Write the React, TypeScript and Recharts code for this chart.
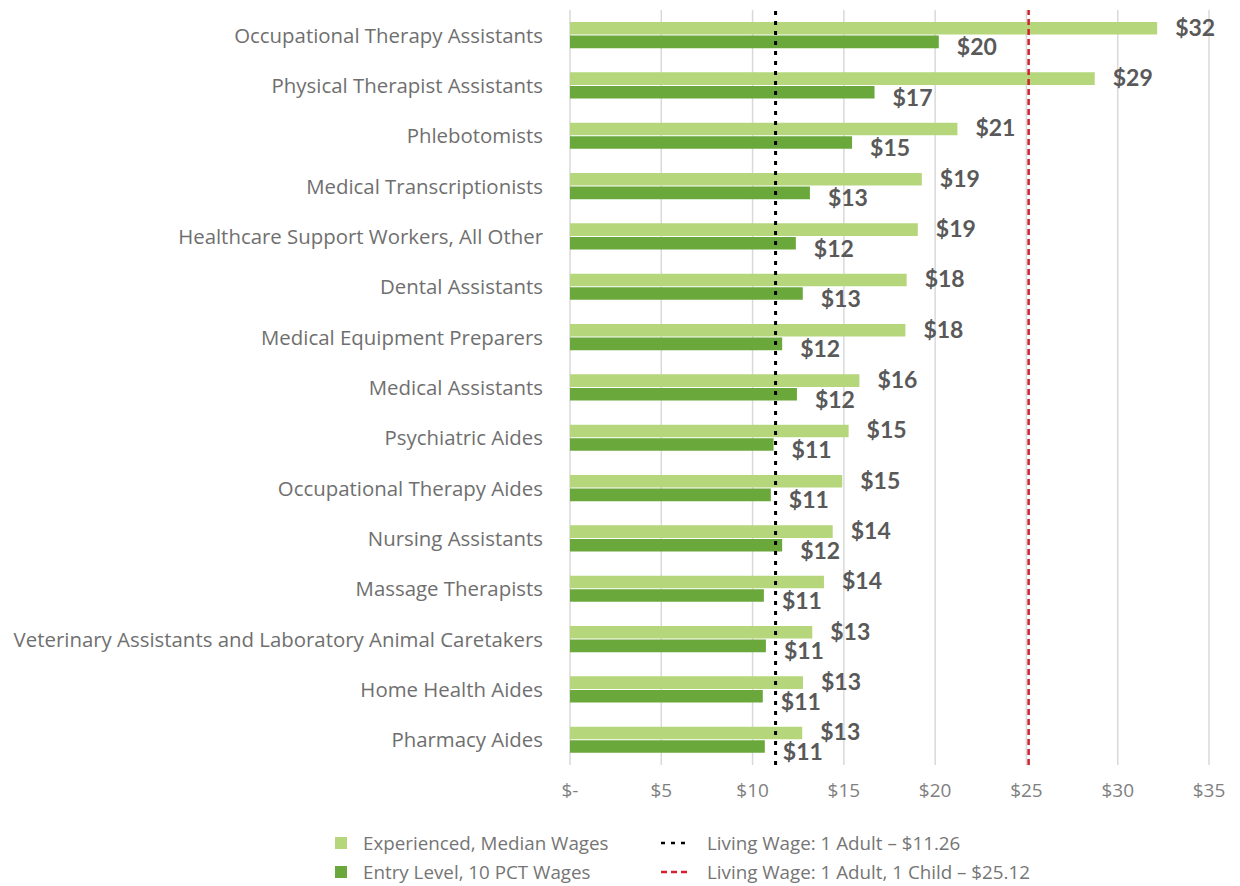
import { BarChart, Bar, XAxis, YAxis, CartesianGrid, ReferenceLine, LabelList } from "recharts";

const occupations = [
  "Occupational Therapy Assistants",
  "Physical Therapist Assistants",
  "Phlebotomists",
  "Medical Transcriptionists",
  "Healthcare Support Workers, All Other",
  "Dental Assistants",
  "Medical Equipment Preparers",
  "Medical Assistants",
  "Psychiatric Aides",
  "Occupational Therapy Aides",
  "Nursing Assistants",
  "Massage Therapists",
  "Veterinary Assistants and Laboratory Animal Caretakers",
  "Home Health Aides",
  "Pharmacy Aides",
];

// Experienced, median hourly wage
const experienced = [32.16, 28.74, 21.22, 19.27, 19.05, 18.44, 18.37, 15.85, 15.26, 14.91, 14.39, 13.91, 13.27, 12.76, 12.72];
// Entry level, 10th percentile hourly wage
const entryLevel = [20.2, 16.68, 15.45, 13.14, 12.37, 12.75, 11.62, 12.43, 11.15, 11.0, 11.62, 10.62, 10.73, 10.56, 10.67];

const xTicks = [0, 5, 10, 15, 20, 25, 30, 35];
const livingWageAdult = 11.26;
const livingWageAdultChild = 25.12;

const LIGHT = "#B5D67B";
const DARK = "#6AA83B";
const FONT = "'Open Sans', sans-serif";
const BOLD_FONT = "Lato, sans-serif";

const data = occupations.map((name, i) => ({
  name,
  experienced: experienced[i],
  entry: entryLevel[i],
}));

function valueLabel(dy: number) {
  return (props: any) => {
    const { x, y, width, height, value } = props;
    return (
      <text
        x={x + width + 18}
        y={y + height / 2 + dy}
        dy="0.36em"
        textAnchor="start"
        fill="#595959"
        fontSize={23}
        fontWeight={700}
        fontFamily={BOLD_FONT}
      >
        ${Math.round(value)}
      </text>
    );
  };
}

function CategoryTick(props: any) {
  const { x, y, payload } = props;
  return (
    <text x={x} y={y} dy="0.36em" textAnchor="end" fill="#6F6F6F" fontSize={20.4} fontFamily={FONT}>
      {payload.value}
    </text>
  );
}

function LegendRow({ swatch, label }: { swatch: React.ReactNode; label: string }) {
  return (
    <div style={{ display: "flex", alignItems: "center", height: 29 }}>
      {swatch}
      <span style={{ color: "#757575", fontSize: 18.8, fontFamily: FONT, whiteSpace: "nowrap" }}>{label}</span>
    </div>
  );
}

export default function App() {
  return (
    <div style={{ position: "absolute", left: 0, top: 0, width: 1240, height: 886, background: "#fff" }}>
      <BarChart
        width={1240}
        height={810}
        data={data}
        layout="vertical"
        margin={{ top: 10, right: 31, left: 0, bottom: 0 }}
        barSize={12.6}
        barGap={1}
      >
        <CartesianGrid horizontal={false} stroke="#D9D9D9" strokeWidth={1.5} />
        <XAxis
          type="number"
          domain={[0, 35]}
          ticks={xTicks}
          tickFormatter={(v) => (v === 0 ? "$-" : `$${v}`)}
          tick={{ fill: "#7F7F7F", fontSize: 19, fontFamily: FONT }}
          tickLine={false}
          axisLine={false}
          tickMargin={13}
          height={45}
        />
        <YAxis
          type="category"
          dataKey="name"
          width={570}
          tick={<CategoryTick />}
          tickLine={false}
          axisLine={false}
          tickMargin={21}
          interval={0}
        />
        <Bar dataKey="experienced" fill={LIGHT} isAnimationActive={false}>
          <LabelList dataKey="experienced" content={valueLabel(-1)} />
        </Bar>
        <Bar dataKey="entry" fill={DARK} isAnimationActive={false}>
          <LabelList dataKey="entry" content={valueLabel(5)} />
        </Bar>
        <ReferenceLine x={livingWageAdult} stroke="#000" strokeWidth={3} strokeDasharray="4 6" />
        <ReferenceLine x={livingWageAdultChild} stroke="#D2202F" strokeWidth={2.5} strokeDasharray="6 4" />
      </BarChart>

      <div style={{ position: "absolute", left: 335, top: 828, display: "flex" }}>
        <div style={{ width: 326 }}>
          <LegendRow
            swatch={<div style={{ width: 12, height: 12, background: LIGHT, marginRight: 16 }} />}
            label="Experienced, Median Wages"
          />
          <LegendRow
            swatch={<div style={{ width: 12, height: 12, background: DARK, marginRight: 16 }} />}
            label="Entry Level, 10 PCT Wages"
          />
        </div>
        <div>
          <LegendRow
            swatch={
              <svg width={46} height={6}>
                <line x1={0} y1={3} x2={30} y2={3} stroke="#000" strokeWidth={2.5} strokeDasharray="4 6" />
              </svg>
            }
            label="Living Wage: 1 Adult – $11.26"
          />
          <LegendRow
            swatch={
              <svg width={46} height={6}>
                <line x1={0} y1={3} x2={30} y2={3} stroke="#D2202F" strokeWidth={2.5} strokeDasharray="6 4" />
              </svg>
            }
            label="Living Wage: 1 Adult, 1 Child – $25.12"
          />
        </div>
      </div>
    </div>
  );
}
